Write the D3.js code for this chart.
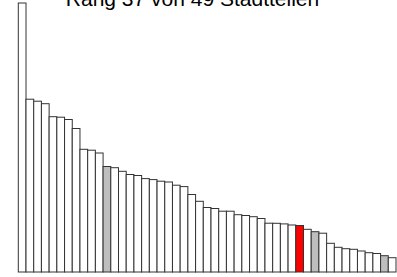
<!DOCTYPE html>
<html>
<head>
<meta charset="utf-8">
<script src="https://cdn.jsdelivr.net/npm/d3@7"></script>
<style>
html,body{margin:0;padding:0;background:#fff;}
svg{display:block;}
</style>
</head>
<body>
<svg id="chart" width="397" height="277"></svg>
<script>
const title = "Rang 37 von 49 Stadtteilen";
const ranks = d3.range(1, 50);
const values = [269, 172.8, 170.8, 168.3, 155.3, 154.8, 152.5, 143.5, 122.7, 121.8,
  119, 105.5, 104.3, 100.7, 97.5, 96.5, 93.4, 92.4, 90.8, 90,
  86.8, 85.4, 77.5, 70.7, 64.5, 63.5, 60.8, 60.8, 57.3, 56.5,
  55.3, 53.5, 48.8, 48.7, 48.1, 47, 46.5, 42.7, 40.3, 38.8,
  28.7, 24.7, 23.3, 22.7, 21, 19.3, 18.5, 16.3, 14.3];
const highlightRank = [37];
const grayRanks = [12, 39, 48];

const svg = d3.select("#chart");
const x = d3.scaleBand().domain(ranks).range([18.3, 396]).padding(0);
const y = d3.scaleLinear().domain([0, 269]).range([272, 3]);

svg.append("g").selectAll("rect").data(ranks).join("rect")
  .attr("x", d => x(d))
  .attr("y", (d, i) => y(values[i]))
  .attr("width", x.bandwidth())
  .attr("height", (d, i) => y(0) - y(values[i]))
  .attr("fill", d => highlightRank.includes(d) ? "#ff0000" : (grayRanks.includes(d) ? "#bebebe" : "#ffffff"))
  .attr("stroke", "#333")
  .attr("stroke-width", 1);

svg.append("text")
  .attr("x", 192.5)
  .attr("y", 5.5)
  .attr("text-anchor", "middle")
  .attr("font-family", "Liberation Sans, Arial, sans-serif")
  .attr("font-size", 21)
  .attr("fill", "#000")
  .text(title);
</script>
</body>
</html>
